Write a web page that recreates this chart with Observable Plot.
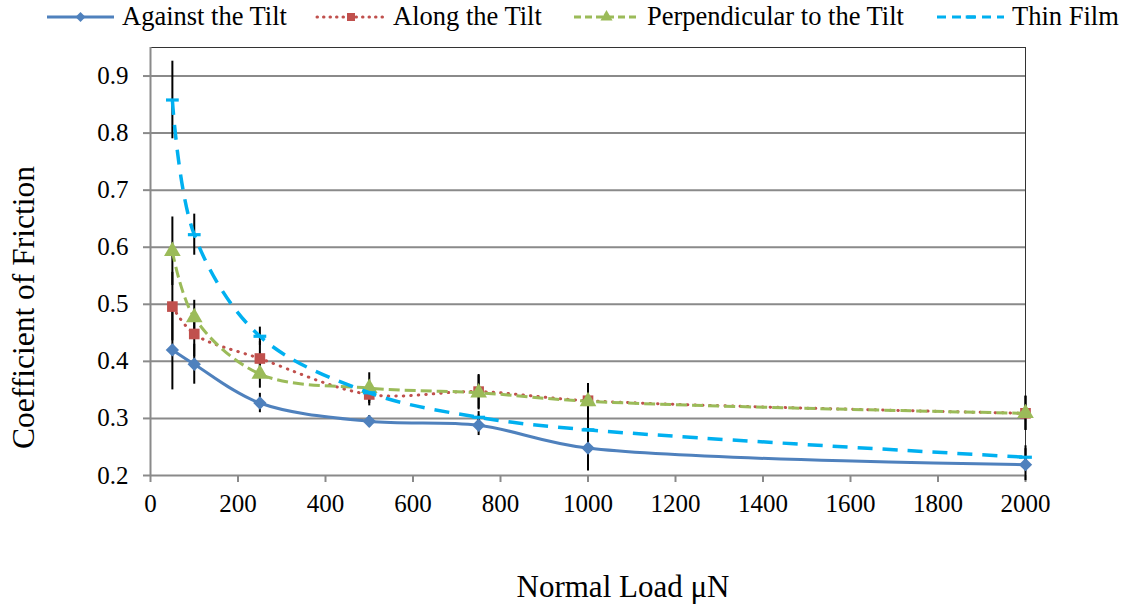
<!DOCTYPE html>
<html><head><meta charset="utf-8">
<script src="https://cdn.jsdelivr.net/npm/d3@7"></script>
<script src="https://cdn.jsdelivr.net/npm/@observablehq/plot@0.6"></script>
<style>
body{margin:0;background:#fff;font-family:"Liberation Serif","Times New Roman",serif;}
#legend{position:relative;height:35px;width:1125px;}
.item{position:absolute;top:0;height:33px;display:flex;align-items:center;font-size:26.5px;color:#000;white-space:nowrap;}
.item svg{margin-right:6px;}
</style></head><body>
<div id="legend"></div><div id="chart"></div>
<script>
// ---- data ----
const loads = [50, 100, 250, 500, 750, 1000, 2000];
const seriesNames = ["Against the Tilt", "Along the Tilt", "Perpendicular to the Tilt", "Thin Film"];
const against = [0.420, 0.395, 0.327, 0.295, 0.288, 0.248, 0.219];
const along   = [0.496, 0.448, 0.405, 0.342, 0.347, 0.331, 0.309];
const perp    = [0.593, 0.477, 0.378, 0.353, 0.345, 0.330, 0.309];
const thin    = [0.858, 0.622, 0.444, 0.345, 0.302, 0.280, 0.232];
const againstErr = [0.070, 0.035, 0.017, 0.010, 0.018, 0.040, 0.028];
const alongErr   = [0.060, 0.040, 0.030, 0.020, 0.030, 0.030, 0.030];
const perpErr    = [0.060, 0.030, 0.025, 0.027, 0.030, 0.030, 0.030];
const thinErr    = [0.068, 0.036, 0.016, 0.015, 0.010, 0.020, 0.020];
const xTicks = [0, 200, 400, 600, 800, 1000, 1200, 1400, 1600, 1800, 2000];
const yTicks = [0.2, 0.3, 0.4, 0.5, 0.6, 0.7, 0.8, 0.9];
const xLabel = "Normal Load μN";
const yLabel = "Coefficient of Friction";

// ---- styles ----
const FONT = '"Liberation Serif","Times New Roman",serif';
const dashSymbol = {draw(ctx, size){ const w = Math.sqrt(size)*0.6; ctx.moveTo(-w,-1.6); ctx.lineTo(w,-1.6); ctx.lineTo(w,1.6); ctx.lineTo(-w,1.6); ctx.closePath(); }};
const styles = [
  {color:"#4F81BD", dash:null, symbol:"diamond2", r:6, cap:"butt"},
  {color:"#C0504D", dash:"0.5 7", symbol:"square", r:6, cap:"round"},
  {color:"#9BBB59", dash:"11 5", symbol:"triangle", r:6.2, cap:"butt"},
  {color:"#00B0F0", dash:"15 10", symbol:dashSymbol, r:6, cap:"butt"}
];
const values = [against, along, perp, thin];
const errs = [againstErr, alongErr, perpErr, thinErr];

const rows = [];
seriesNames.forEach((s, i) => loads.forEach((l, j) => rows.push({series: s, idx: i, load: l, cof: values[i][j], lo: values[i][j]-errs[i][j], hi: values[i][j]+errs[i][j]})));

const marks = [
  Plot.gridY(yTicks.filter(t => t > 0.2), {stroke:"#8a8a8a", strokeOpacity:1, strokeWidth:2}),
  Plot.ruleY([0.95], {stroke:"#333", strokeWidth:1}),
  Plot.ruleX([2000], {stroke:"#333", strokeWidth:1}),
  Plot.ruleX([0], {stroke:"#8a8a8a", strokeWidth:2}),
  Plot.ruleY([0.2], {stroke:"#8a8a8a", strokeWidth:2}),
  // tick marks (gray)
  Plot.axisX({ticks: xTicks, tickSize: 7, label: null, stroke:"#8a8a8a", strokeWidth: 2, tickFormat: () => ""}),
  Plot.axisY({ticks: yTicks, tickSize: 7, label: null, stroke:"#8a8a8a", strokeWidth: 2, tickFormat: () => ""}),
  // tick labels (black serif)
  Plot.text(xTicks, {x: d => d, frameAnchor: "bottom", dy: 28, lineAnchor: "middle", textAnchor: "middle", text: d => String(d), fontSize: 25, fontFamily: FONT, fill: "#000"}),
  Plot.text(yTicks, {y: d => d, frameAnchor: "left", dx: -22, lineAnchor: "middle", textAnchor: "end", text: d => d.toFixed(1), fontSize: 25, fontFamily: FONT, fill: "#000"}),
  Plot.ruleX(rows, {x:"load", y1:"lo", y2:"hi", stroke:"black", strokeWidth:2})
];
seriesNames.forEach((s, i) => {
  const st = styles[i];
  const d = rows.filter(r => r.idx === i);
  marks.push(Plot.line(d, {x:"load", y:"cof", stroke: st.color, strokeWidth: i===3 ? 3.5 : 3, strokeDasharray: st.dash, strokeLinecap: st.cap, curve: "catmull-rom"}));
  marks.push(Plot.dot(d, {x:"load", y:"cof", fill: st.color, stroke: "none", symbol: st.symbol, r: st.r}));
});
marks.push(Plot.text([xLabel], {frameAnchor:"bottom", text: d => d, textAnchor: "middle", lineAnchor: "middle", dx: 35, dy: 112, fontSize: 31, fontFamily: FONT}));
marks.push(Plot.text([yLabel], {frameAnchor:"left", text: d => d, textAnchor: "middle", lineAnchor: "middle", rotate: -90, dx: -127, dy: 46, fontSize: 31.5, fontFamily: FONT}));

const chart = Plot.plot({
  width: 1125, height: 572,
  marginTop: 12, marginBottom: 132, marginLeft: 150, marginRight: 100,
  style: {fontFamily: FONT, fontSize: "20px", color: "#000", background: "#fff"},
  x: {domain: [0, 2000]},
  y: {domain: [0.2, 0.95]},
  marks
});
document.getElementById("chart").appendChild(chart);

// ---- legend ----
const legendPos = [{sx:45, tx:122}, {sx:315, tx:393}, {sx:572, tx:647}, {sx:935, tx:1012}];
const leg = document.getElementById("legend");
seriesNames.forEach((s, i) => {
  const st = styles[i];
  const item = document.createElement("div");
  item.className = "item";
  item.style.left = legendPos[i].sx + "px";
  const w = legendPos[i].tx - legendPos[i].sx - 6;
  const sym = typeof st.symbol === "string" ? {diamond2: d3.symbolDiamond2, square: d3.symbolSquare, triangle: d3.symbolTriangle}[st.symbol] : st.symbol;
  const path = d3.symbol(sym, Math.PI * 4.5 * 4.5)();
  item.innerHTML = `<svg width="${w}" height="20"><line x1="2" x2="${w-2}" y1="10" y2="10" stroke="${st.color}" stroke-width="3" ${st.dash ? `stroke-dasharray="${i===3 ? '9 6' : i===2 ? '7 4' : '0.5 6'}"` : ""} stroke-linecap="${st.cap}"/><path d="${path}" transform="translate(${w/2},10)" fill="${st.color}"/></svg><span>${s}</span>`;
  leg.appendChild(item);
});
</script>
</body></html>
